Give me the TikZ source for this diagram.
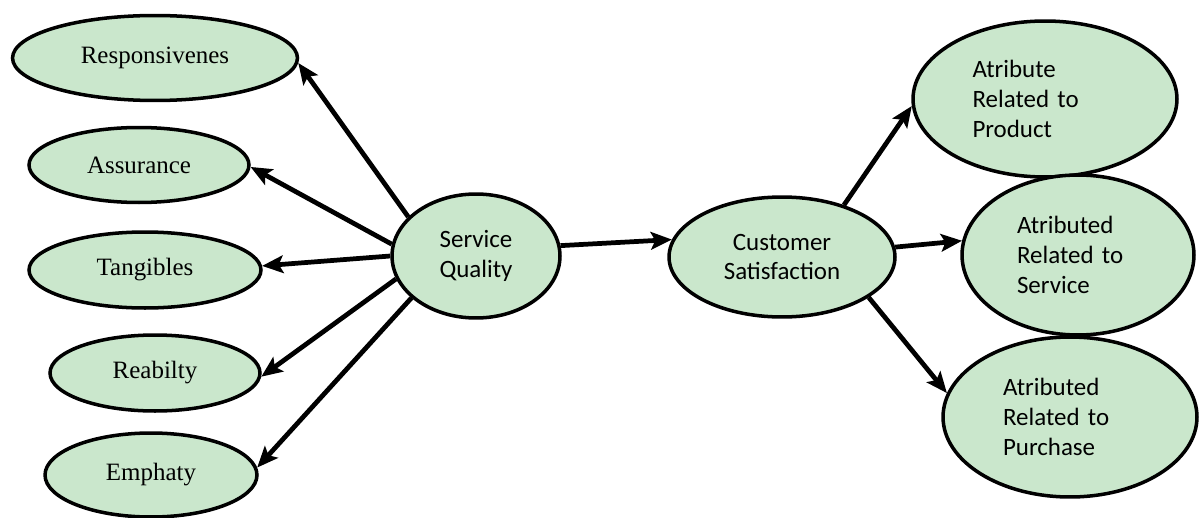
\documentclass[tikz,border=0pt]{standalone}
\usepackage{fontspec}
\setmainfont{Liberation Serif}
\newfontfamily\calib{Carlito}
\usetikzlibrary{shapes.geometric,arrows.meta}
\definecolor{ellfill}{RGB}{202,231,204}
\tikzset{
  oval/.style={ellipse, draw=black, line width=2pt, fill=ellfill, inner sep=0pt, font=\fontsize{14.2}{17}\selectfont},
  calnode/.style={oval, font=\calib\fontsize{14.2}{17}\selectfont, align=center},
  attnode/.style={oval, font=\calib\fontsize{14.2}{17}\selectfont, align=left},
  conn/.style={line width=2.7pt, -{Stealth[length=12pt,width=10pt,inset=2.5pt]}}
}
\begin{document}
\begin{tikzpicture}[x=0.02cm, y=-0.02cm]
\useasboundingbox (0,0) rectangle (1199,517);
% left factors
\node[oval, minimum width=5.7cm, minimum height=1.7cm] (resp) at (155,58) {Responsivenes};
\node[oval, minimum width=4.4cm, minimum height=1.5cm] (assu) at (139,165) {Assurance};
\node[oval, minimum width=4.64cm, minimum height=1.52cm] (tang) at (145,270) {Tangibles};
\node[oval, minimum width=4.2cm, minimum height=1.52cm] (reab) at (155,373) {Reabilty};
\node[oval, minimum width=4.24cm, minimum height=1.68cm] (emph) at (151,475) {Emphaty};
% centre
\node[calnode, minimum width=3.36cm, minimum height=2.48cm] (sq) at (476,256) {Service\\Quality};
\node[calnode, minimum width=4.52cm, minimum height=2.4cm] (cs) at (782,257) {Customer\\Satisfaction};
% right attributes
\node[attnode, minimum width=5.28cm, minimum height=3.12cm, text width=2.9cm] (prod) at (1045,99) {Atribute\\Related to\\Product};
\node[attnode, minimum width=4.64cm, minimum height=3.2cm, text width=2.44cm] (serv) at (1078,255) {Atributed\\Related to\\Service};
\node[attnode, minimum width=5.08cm, minimum height=3.2cm, text width=2.68cm] (purc) at (1070,417) {Atributed\\Related to\\Purchase};
% connectors
\draw[conn] (sq.150) -- (resp.-2);
\draw[conn] (sq.172) -- (assu.-1);
\draw[conn] (sq.180) -- (tang.2);
\draw[conn] (sq.196) -- (reab.-2);
\draw[conn] (sq.213) -- (emph.4);
\draw[conn] (sq.7) -- (cs.171);
\draw[conn] (cs.40) -- (prod.183);
\draw[conn] (cs.5) -- (serv.173);
\draw[conn] (cs.-25) -- (purc.169);
\end{tikzpicture}
\end{document}
